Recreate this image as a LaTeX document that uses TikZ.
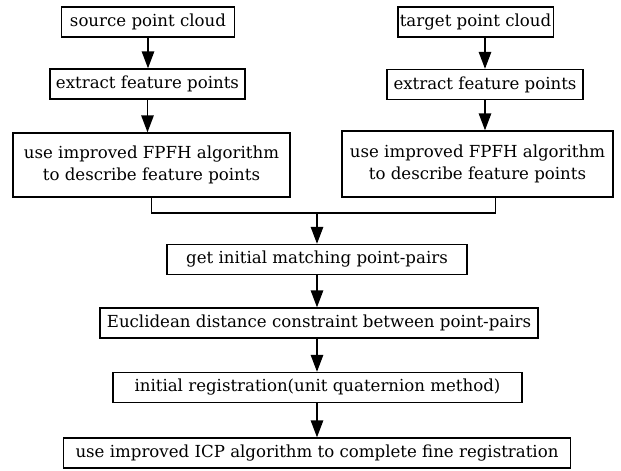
\documentclass[tikz,border=0pt]{standalone}
\usepackage{fontspec}
\setmainfont{DejaVu Serif}
\usetikzlibrary{arrows.meta}

\tikzset{
  stepbox/.style={draw, rectangle, line width=1.4pt, inner sep=2pt, minimum height=30pt, align=center, font=\fontsize{16.6}{22}\selectfont},
  flow/.style={line width=1.4pt, -{Triangle[length=17pt,width=12.5pt]}}
}

\begin{document}
\begin{tikzpicture}[x=1pt, y=-1pt]
  \useasboundingbox (0,0) rectangle (621,471);

  % left branch: source cloud
  \node[stepbox, minimum width=173pt] (src) at (148,22) {source point cloud};
  \node[stepbox, minimum width=195pt] (extL) at (147.5,84) {extract feature points};
  \node[stepbox, minimum width=277pt, minimum height=64pt] (fpfhL) at (151.5,165) {use improved FPFH algorithm\\to describe feature points};

  % right branch: target cloud
  \node[stepbox, minimum width=155pt] (tgt) at (475.5,22) {target point cloud};
  \node[stepbox, minimum width=196pt] (extR) at (485,84.5) {extract feature points};
  \node[stepbox, minimum width=271pt, minimum height=66pt] (fpfhR) at (477.5,164) {use improved FPFH algorithm\\to describe feature points};

  % common chain
  \node[stepbox, minimum width=300pt] (match) at (317,259.5) {get initial matching point-pairs};
  \node[stepbox, minimum width=438pt] (euclid) at (319,323) {Euclidean distance constraint between point-pairs};
  \node[stepbox, minimum width=409pt] (initreg) at (317.5,387.5) {initial registration(unit quaternion method)};
  \node[stepbox, minimum width=507pt] (icp) at (317,453) {use improved ICP algorithm to complete fine registration};

  \coordinate (join) at (317,213);

  \draw[flow] (src) -- (src |- extL.north);
  \draw[flow] (extL) -- (extL |- fpfhL.north);
  \draw[flow] (tgt.south -| extR.north) -- (extR.north);
  \draw[flow] (extR) -- (extR |- fpfhR.north);

  \draw[line width=1.4pt] (fpfhL.south) |- (join);
  \draw[line width=1.4pt] ([xshift=18pt]fpfhR.south) |- (join);
  \draw[flow] (join) -- (match);

  \draw[flow] (match) -- (match |- euclid.north);
  \draw[flow] (match |- euclid.south) -- (match |- initreg.north);
  \draw[flow] (match |- initreg.south) -- (match |- icp.north);
\end{tikzpicture}
\end{document}
